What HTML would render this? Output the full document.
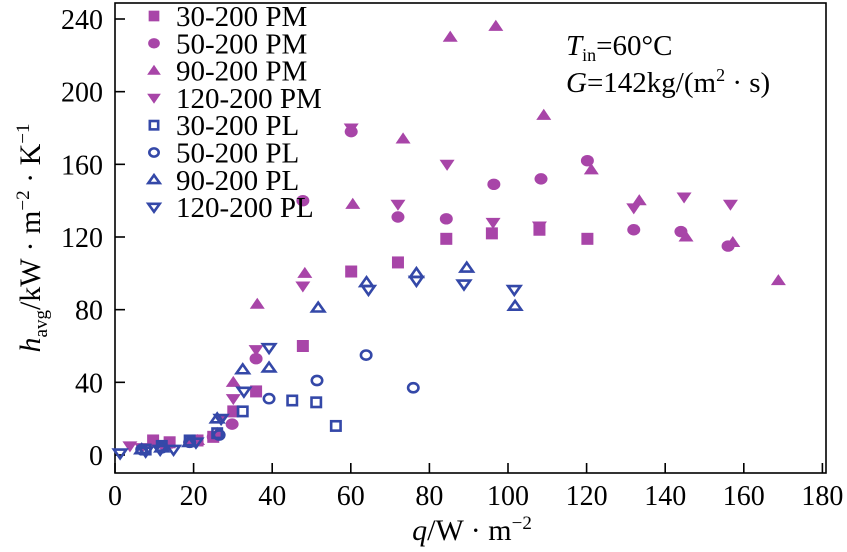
<!DOCTYPE html>
<html><head><meta charset="utf-8"><style>body{margin:0;background:#fff}svg{display:block;font-family:"Liberation Serif",serif}</style></head>
<body>
<svg id="chart" width="847" height="552"></svg>
<script>
const s30PM_x=[9.7,13.9,21.0,25.0,30.1,35.9,47.8,60.1,72.0,84.3,95.9,108.0,120.2];
const s30PM_y=[8,7,8,10,24,35,60,101,106,119,122,124,119];
const s50PM_x=[12.9,19,25,29.8,35.9,47.8,60.1,72.0,84.3,96.4,108.4,120.2,132.0,144.0,156.0];
const s50PM_y=[5,7,10,17,53,140,178,131,130,149,152,162,124,123,115];
const s90PM_x=[12.9,21,26,30.1,36.2,48.3,60.5,73.3,85.3,96.9,109.1,121.2,133.4,145.3,157.2,168.8];
const s90PM_y=[6,8,12,40,83,100,138,174,230,236,187,157,140,120,117,96];
const s120PM_x=[3.8,6.8,12.9,27.1,30.1,35.9,47.8,60.1,72.0,84.5,96.2,108.0,132.0,144.8,156.6];
const s120PM_y=[5,4,5,20,31,58,93,180,138,160,128,126,136,142,138];
const s30PL_x=[7.8,11.9,19,26,32.5,45.1,51.2,56.2];
const s30PL_y=[3,5,8,12,24,30,29,16];
const s50PL_x=[6.8,11.9,19,26.5,39.2,51.4,63.9,75.9];
const s50PL_y=[3,4,7,11,31,41,55,37];
const s90PL_x=[6.8,11.9,19,26,32.5,39.2,51.7,64.0,76.7,89.5,101.8];
const s90PL_y=[3,4,7,20,47,48,81,95,100,103,82];
const s120PL_x=[1.3,7.8,11.5,14.9,20.6,27.0,32.8,39.2,64.5,76.7,88.8,101.6];
const s120PL_y=[1,2,3,3,7,20,35,59,91,96,94,91];
const xTicks=[0,20,40,60,80,100,120,140,160,180];
const yTicks=[0,40,80,120,160,200,240];
const legendLabels=["30-200 PM","50-200 PM","90-200 PM","120-200 PM","30-200 PL","50-200 PL","90-200 PL","120-200 PL"];

const svg=document.getElementById('chart');const NS='http://www.w3.org/2000/svg';
const L=115,R=826,T=3,B=473;
const X=v=>115+v*3.93, Y=v=>455-v*(455-19)/240;
function el(t,a,p){const e=document.createElementNS(NS,t);for(const k in a)e.setAttribute(k,a[k]);(p||svg).appendChild(e);return e;}
const P='#a845a8',Bl='#3448a8';
function marker(type,fill,cx,cy,g,sc){
  sc=sc||1;
  const st=fill?{fill:P,stroke:'none'}:{fill:'none',stroke:Bl,'stroke-width':2.6};
  const r=(fill?6.5:5.2)*sc;
  if(type==='s') return el('rect',Object.assign({x:cx-r+0.5,y:cy-r+0.5,width:2*r-1,height:2*r-1},st),g);
  if(type==='c') return el('ellipse',Object.assign({cx:cx,cy:cy,rx:r,ry:r*0.88},st),g);
  if(type==='u') return el('polygon',Object.assign({points:`${cx-r-1},${cy+r*0.7} ${cx+r+1},${cy+r*0.7} ${cx},${cy-r}`},st),g);
  return el('polygon',Object.assign({points:`${cx-r-1},${cy-r*0.7} ${cx+r+1},${cy-r*0.7} ${cx},${cy+r}`},st),g);
}
const series=[[s30PM_x,s30PM_y,'s',1],[s50PM_x,s50PM_y,'c',1],[s90PM_x,s90PM_y,'u',1],[s120PM_x,s120PM_y,'d',1],
[s30PL_x,s30PL_y,'s',0],[s50PL_x,s50PL_y,'c',0],[s90PL_x,s90PL_y,'u',0],[s120PL_x,s120PL_y,'d',0]];
const names=['series-30-pm','series-50-pm','series-90-pm','series-120-pm','series-30-pl','series-50-pl','series-90-pl','series-120-pl'];
const fr=el('rect',{x:L,y:T,width:R-L,height:B-T,fill:'none',stroke:'#000','stroke-width':1.6});

xTicks.forEach(v=>{
  const l=el('line',{x1:X(v),x2:X(v),y1:B,y2:B-10,stroke:'#000','stroke-width':1.6});
  
  const t=el('text',{x:X(v),y:505,'text-anchor':'middle','font-size':28});t.textContent=v;
  
});
yTicks.forEach(v=>{
  const l=el('line',{x1:L,x2:L+10,y1:Y(v),y2:Y(v),stroke:'#000','stroke-width':1.6});
  
  const t=el('text',{x:L-12,y:Y(v)+10,'text-anchor':'end','font-size':28});t.textContent=v;
  
});
series.forEach((s,i)=>{
  const g=el('g',{});
  s[0].forEach((xv,j)=>{const m=marker(s[2],s[3],X(xv),Y(s[1][j]),g);
    });
});
const lg=el('g',{});
legendLabels.forEach((lab,i)=>{
  const y=16+i*27.3;
  marker(series[i][2],series[i][3],154,y,lg,0.9);
  const t=el('text',{x:176,y:y+10,'font-size':29},lg);t.textContent=lab;
  
});
</script>
<svg width="847" height="552" style="position:absolute;left:0;top:0;font-family:'Liberation Serif',serif">
<text x="566" y="55" font-size="29"><tspan font-style="italic">T</tspan><tspan font-size="18" dy="6">in</tspan><tspan dy="-6">=60°C</tspan></text>
<text x="566" y="92" font-size="29"><tspan font-style="italic">G</tspan>=142kg/(m<tspan font-size="18" dy="-11">2</tspan><tspan dy="11">  ·  s)</tspan></text>
<text x="472" y="540" font-size="30" text-anchor="middle"><tspan font-style="italic">q</tspan>/W  ·  m<tspan font-size="19" dy="-11">−2</tspan></text>
<text transform="translate(40,238) rotate(-90)" font-size="30" text-anchor="middle"><tspan font-style="italic">h</tspan><tspan font-size="19" dy="7">avg</tspan><tspan dy="-7">/kW  ·  m</tspan><tspan font-size="19" dy="-11">−2</tspan><tspan dy="11">  ·  K</tspan><tspan font-size="19" dy="-11">−1</tspan></text>
</svg>
</body></html>
